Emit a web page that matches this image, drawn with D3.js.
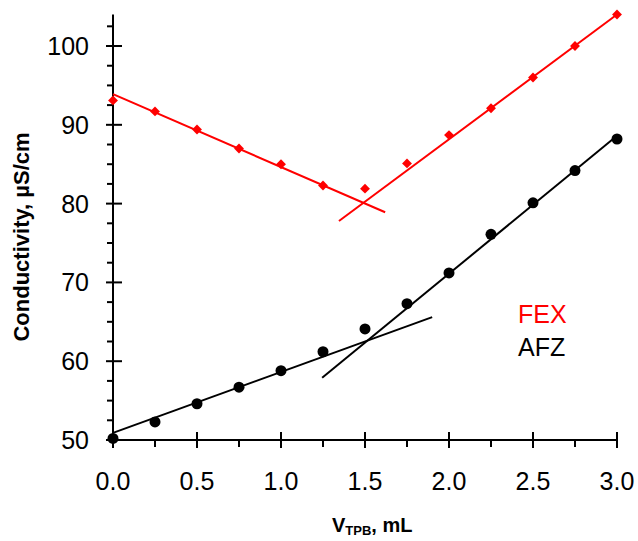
<!DOCTYPE html>
<html><head><meta charset="utf-8">
<script src="https://cdn.jsdelivr.net/npm/d3@7/dist/d3.min.js"></script>
<style>body{margin:0;background:#fff}svg{display:block}text{font-family:"Liberation Sans",Arial,sans-serif}</style>
</head><body>
<svg id="c" width="638" height="541"></svg>
<script>
const volumes = [0, 0.25, 0.5, 0.75, 1.0, 1.25, 1.5, 1.75, 2.0, 2.25, 2.5, 2.75, 3.0];
const fexValues = [93.1, 91.7, 89.4, 87.0, 85.0, 82.3, 81.9, 85.1, 88.7, 92.1, 96.0, 100.0, 104.0];
const afzValues = [50.2, 52.3, 54.6, 56.7, 58.8, 61.2, 64.1, 67.3, 71.2, 76.1, 80.1, 84.2, 88.2];
// fitted line segments: [x0, y0, x1, y1]
const fexFits = [[0, 93.9, 1.62, 78.9], [1.345, 77.8, 3.0, 104.0]];
const afzFits = [[0, 50.9, 1.9, 65.6], [1.245, 57.9, 3.0, 88.6]];
const xTicks = [0, 0.5, 1.0, 1.5, 2.0, 2.5, 3.0];
const yTicks = [50, 60, 70, 80, 90, 100];
const legendLabels = ["FEX", "AFZ"];
const colors = {FEX: "#ff0000", AFZ: "#000000"};

const svg = d3.select("#c");
const x = d3.scaleLinear().domain([0, 3]).range([113, 617]);
const y = d3.scaleLinear().domain([50, 104]).range([440, 14.5]);

// axes
const xMinor = d3.range(0, 3.001, 0.25).filter(v => Math.abs(v*2 - Math.round(v*2)) > 1e-6);
const yMinor = d3.range(50, 104, 2.5).filter(v => v % 10 !== 0);

const gx = svg.append("g");
gx.append("line").attr("x1", x(0)).attr("x2", x(3)).attr("y1", y(50)).attr("y2", y(50)).attr("stroke", "#000").attr("stroke-width", 2);
gx.selectAll(".mj").data(xTicks).join("line").attr("x1", d => x(d)).attr("x2", d => x(d)).attr("y1", y(50) - 8).attr("y2", y(50) + 8).attr("stroke", "#000").attr("stroke-width", 2);
gx.selectAll(".mn").data(xMinor).join("line").attr("class","mn").attr("x1", d => x(d)).attr("x2", d => x(d)).attr("y1", y(50)).attr("y2", y(50) + 7).attr("stroke", "#000").attr("stroke-width", 2);
gx.selectAll("text").data(xTicks).join("text").attr("x", d => x(d)).attr("y", 490).attr("text-anchor", "middle").attr("font-size", 25).text(d => d3.format(".1f")(d));

const gy = svg.append("g");
gy.append("line").attr("x1", x(0)).attr("x2", x(0)).attr("y1", y(50)).attr("y2", y(104)).attr("stroke", "#000").attr("stroke-width", 2);
gy.selectAll(".mj").data(yTicks).join("line").attr("x1", x(0) - 7).attr("x2", x(0) + 9).attr("y1", d => y(d)).attr("y2", d => y(d)).attr("stroke", "#000").attr("stroke-width", 2);
gy.selectAll(".mn").data(yMinor).join("line").attr("class","mn").attr("x1", x(0) - 6).attr("x2", x(0)).attr("y1", d => y(d)).attr("y2", d => y(d)).attr("stroke", "#000").attr("stroke-width", 2);
gy.selectAll("text").data(yTicks).join("text").attr("x", 89).attr("y", d => y(d) + 9).attr("text-anchor", "end").attr("font-size", 25).text(d => d);

// axis titles
svg.append("text").attr("transform", "translate(29,237) rotate(-90)").attr("text-anchor", "middle").attr("font-size", 22).attr("font-weight", "bold").text("Conductivity, µS/cm");
const xt = svg.append("text").attr("x", 332).attr("y", 532).attr("font-size", 20).attr("font-weight", "bold");
xt.append("tspan").text("V");
xt.append("tspan").attr("font-size", 13).attr("dy", 3).text("TPB");
xt.append("tspan").attr("dy", -3).text(", mL");

// fit lines
function drawFits(fits, color) {
  svg.append("g").selectAll("line").data(fits).join("line")
    .attr("x1", d => x(d[0])).attr("y1", d => y(d[1])).attr("x2", d => x(d[2])).attr("y2", d => y(d[3]))
    .attr("stroke", color).attr("stroke-width", 2);
}
drawFits(fexFits, colors.FEX);
drawFits(afzFits, colors.AFZ);

// markers
const fexPts = volumes.map((v, i) => [v, fexValues[i]]);
const afzPts = volumes.map((v, i) => [v, afzValues[i]]);
svg.append("g").selectAll("path").data(fexPts).join("path")
  .attr("d", d3.symbol(d3.symbolDiamond2, 62))
  .attr("transform", d => `translate(${x(d[0])},${y(d[1])})`).attr("fill", colors.FEX);
svg.append("g").selectAll("circle").data(afzPts).join("circle")
  .attr("cx", d => x(d[0])).attr("cy", d => y(d[1])).attr("r", 5.5).attr("fill", colors.AFZ);

// legend
svg.append("g").selectAll("text").data(legendLabels).join("text")
  .attr("x", 518).attr("y", (d, i) => 323 + i * 33).attr("font-size", 25)
  .attr("fill", d => colors[d]).text(d => d);
</script>
</body></html>
